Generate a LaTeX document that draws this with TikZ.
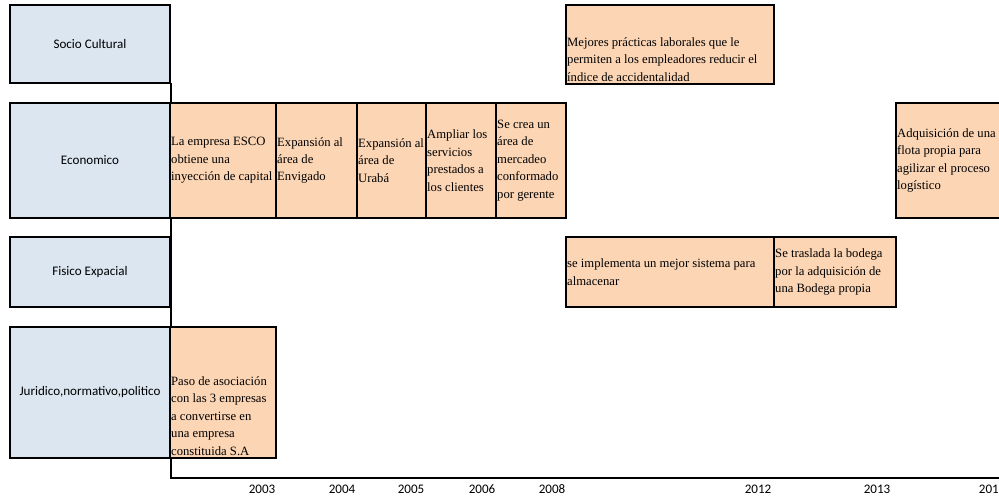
\documentclass[tikz,border=0pt]{standalone}
\usepackage{fontspec}
\setmainfont{Liberation Serif}
\newfontfamily\calib{Carlito}
\definecolor{catblue}{RGB}{220,230,241}
\definecolor{peach}{RGB}{252,213,180}

\begin{document}
\begin{tikzpicture}[x=0.75pt,y=-0.75pt,
  catbox/.style={draw=black,line width=2.2pt,fill=catblue,inner sep=0pt,
    minimum width=120pt,font=\calib\fontsize{9.8}{12}\selectfont},
  evbox/.style={draw=black,line width=2.2pt,fill=peach,inner sep=0pt},
  evtext/.style={align=left,inner xsep=1.8pt,inner ysep=3pt,
    font=\fontsize{9.5}{13.1}\selectfont},
  year/.style={font=\calib\fontsize{9.8}{12}\selectfont}]
\useasboundingbox (0,0) rectangle (999,498);

% axis
\coordinate (axisend) at (1010,478);
\draw[line width=2.2pt] (171,83) coordinate (axistop) |- (axisend);

% categories
\node[catbox,minimum height=58.5pt] (socio) at (90,44) {Socio Cultural};
\node[catbox,minimum height=86.25pt] (econ) at (90,160.5) {Economico};
\node[catbox,minimum height=52.5pt] (fisico) at (90,272) {Fisico Expacial};
\node[catbox,minimum height=98.25pt] (jurid) at (90,392.5) {Juridico,normativo,politico};

% socio cultural
\node[evbox,minimum width=156pt,minimum height=59.25pt] (s1) at (670,44.5) {};
\node[evtext,anchor=south west] (s1t) at (s1.south west)
  {Mejores prácticas laborales que le\\permiten a los empleadores reducir el\\índice de accidentalidad};

% economico
\node[evbox,minimum width=79.5pt,minimum height=86.25pt] (e1) at (223,160.5) {};
\node[evtext,anchor=west] (e1t) at (e1.west) {La empresa ESCO\\obtiene una\\inyección de capital};
\node[evbox,minimum width=60.75pt,minimum height=86.25pt] (e2) at (316.5,160.5) {};
\node[evtext,anchor=west] (e2t) at (e2.west) {Expansión al\\área de\\Envigado};
\node[evbox,minimum width=51.75pt,minimum height=86.25pt] (e3) at (391.5,160.5) {};
\node[evtext,anchor=west] (e3t) at (e3.west) {Expansión al\\área de\\Urabá};
\node[evbox,minimum width=52.5pt,minimum height=86.25pt] (e4) at (461,160.5) {};
\node[evtext,anchor=west] (e4t) at (e4.west) {Ampliar los\\servicios\\prestados a\\los clientes};
\node[evbox,minimum width=52.5pt,minimum height=86.25pt] (e5) at (531,160.5) {};
\node[evtext,anchor=west] (e5t) at (e5.west) {Se crea un\\área de\\mercadeo\\conformado\\por gerente};
\node[evbox,minimum width=80.25pt,minimum height=86.25pt] (e6) at (949.5,160.5) {};
\node[evtext,anchor=west] (e6t) at (e6.west) {Adquisición de una\\flota propia para\\agilizar el proceso\\logístico};

% fisico expacial
\node[evbox,minimum width=156pt,minimum height=52.5pt] (f1) at (670,272) {};
\node[evtext,anchor=west] (f1t) at (f1.west) {se implementa un mejor sistema para\\almacenar};
\node[evbox,minimum width=91.5pt,minimum height=52.5pt] (f2) at (835,272) {};
\node[evtext,anchor=west] (f2t) at (f2.west) {Se traslada la bodega\\por la adquisición de\\una Bodega propia};

% juridico
\node[evbox,minimum width=79.5pt,minimum height=98.25pt] (j1) at (223,392.5) {};
\node[evtext,anchor=south west] (j1t) at (j1.south west)
  {Paso de asociación\\con las 3 empresas\\a convertirse en\\una empresa\\constituida S.A};

% years
\node[year] (y2003) at (262,489) {2003};
\node[year] (y2004) at (342,489) {2004};
\node[year] (y2005) at (411,489) {2005};
\node[year] (y2006) at (482,489) {2006};
\node[year] (y2008) at (552,489) {2008};
\node[year] (y2012) at (758,489) {2012};
\node[year] (y2013) at (877,489) {2013};
\node[year,anchor=east,inner xsep=0pt] (y2014) at (999,489) {201};
\end{tikzpicture}
\end{document}
